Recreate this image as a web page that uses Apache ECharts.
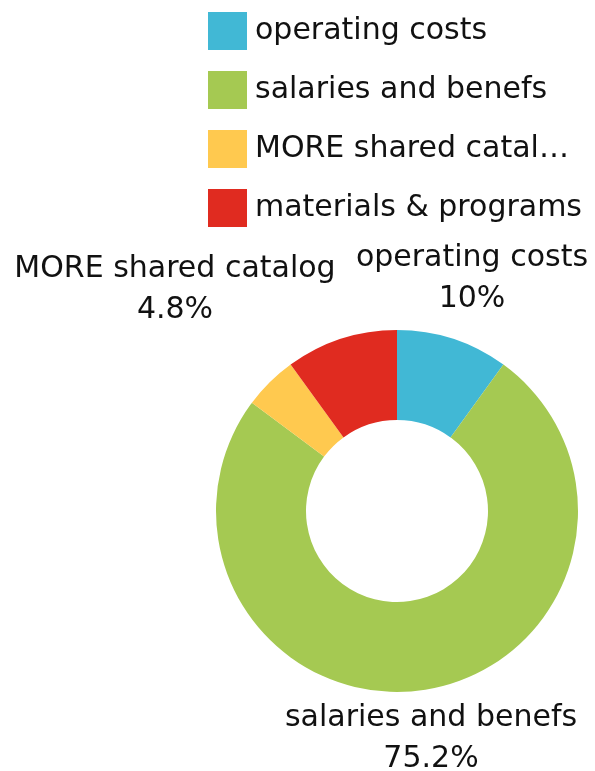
<!DOCTYPE html>
<html><head><meta charset="utf-8">
<script src="https://cdn.jsdelivr.net/npm/echarts@6/dist/echarts.min.js"></script>
<style>html,body{margin:0;padding:0;background:#fff}#c{width:595px;height:771px}</style>
</head><body><div id="c"></div>
<script>
const categories = ['operating costs', 'salaries and benefs', 'MORE shared catalog', 'materials & programs'];
const legendLabels = ['operating costs', 'salaries and benefs', 'MORE shared catal…', 'materials & programs'];
const values = [10, 75.2, 4.8, 10];
const colors = ['#41B8D5', '#A5C952', '#FFC94F', '#E02B20'];
const showLabel = [true, true, true, false];

// label placement (layout, not data)
const labelPos = [[472, 279], [431, 739], [175, 290], null];

const FONT = 'DejaVu Sans';
const FS = 30;
const chart = echarts.init(document.getElementById('c'), null, {renderer: 'canvas'});
chart.setOption({
  animation: false,
  color: colors,
  legend: {
    orient: 'vertical',
    left: 208, top: 12, padding: 0,
    itemWidth: 39, itemHeight: 38, itemGap: 21,
    icon: 'rect',
    data: categories,
    formatter: n => legendLabels[categories.indexOf(n)],
    textStyle: {fontFamily: FONT, fontSize: FS, color: '#111', lineHeight: 38, padding: [0, 0, 0, 3]}
  },
  series: [{
    type: 'pie',
    center: [397, 511],
    radius: [91, 181],
    startAngle: 90,
    clockwise: true,
    label: {
      show: true, position: 'outside',
      formatter: p => p.name + '\n' + p.value + '%',
      fontFamily: FONT, fontSize: FS, color: '#111', lineHeight: 41, align: 'center', overflow: 'none'
    },
    labelLine: {show: false},
    labelLayout: p => {
      const pos = labelPos[p.dataIndex];
      return pos ? {x: pos[0], y: pos[1], align: 'center', verticalAlign: 'middle', hideOverlap: false} : {};
    },
    data: categories.map((n, i) => ({name: n, value: values[i], label: {show: showLabel[i]}}))
  }]
});
</script></body></html>
